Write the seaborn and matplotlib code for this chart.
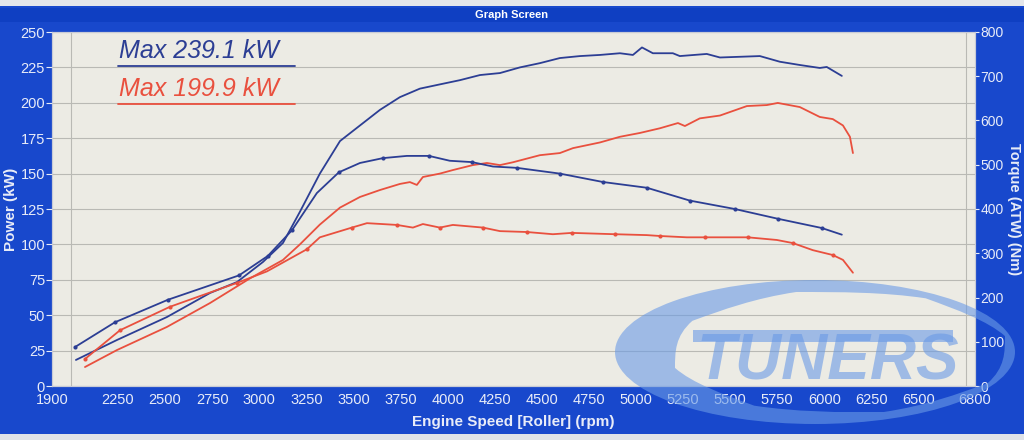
import numpy as np
import pandas as pd
import matplotlib
matplotlib.use("Agg")
import matplotlib.pyplot as plt
import seaborn as sns
from matplotlib.patches import Rectangle, PathPatch
from matplotlib.path import Path

# dyno run
# power curves (kW, left axis)
blue_pwr_rpm = [2027, 2245, 2510, 2739, 2882, 3020, 3126, 3216, 3322, 3429, 3535, 3641, 3747,
                3853, 3959, 4066, 4172, 4278, 4384, 4490, 4596, 4703, 4809, 4915, 4984, 5032,
                5090, 5196, 5233, 5376, 5446, 5658, 5764, 5870, 5976, 6013, 6093]
blue_pwr_kw = [18.4, 32.5, 48.7, 65.7, 73.4, 87.6, 101, 123, 150, 173, 184, 195, 204,
               210, 213, 216, 219.6, 221, 225, 228, 231.6, 233, 233.8, 235, 233.8, 239.1,
               235, 235, 233, 234.5, 232, 233, 229, 226.7, 224.6, 225.3, 219]

red_pwr_rpm = [2075, 2245, 2510, 2739, 2951, 3126, 3216, 3322, 3429, 3535, 3641, 3747, 3800,
               3837, 3869, 3959, 4028, 4134, 4209, 4278, 4347, 4490, 4596, 4666, 4809, 4915,
               5021, 5127, 5223, 5260, 5339, 5446, 5589, 5695, 5753, 5870, 5976, 6045, 6099,
               6136, 6152]
red_pwr_kw = [13.4, 25.4, 41.7, 58.6, 76, 89, 100, 114, 126, 133.5, 138.4, 142.7, 144,
              142, 147.6, 150, 152.5, 156, 157.5, 156, 158, 163, 164.5, 168, 172, 176,
              178.7, 182, 185.7, 183.6, 189, 191, 197.7, 198.4, 199.9, 197, 190, 188.5, 184,
              176, 164.5]

# torque curves (Nm, right axis)
blue_tq_rpm = [2022, 2234, 2516, 2893, 3046, 3174, 3306, 3423, 3535, 3657, 3784, 3901, 4012,
               4129, 4241, 4368, 4596, 4825, 5058, 5286, 5525, 5753, 5987, 6093]
blue_tq_nm = [88, 144, 195, 250, 294, 352, 436, 483, 504, 515, 520, 520, 509,
              506, 496, 493, 480, 461, 448, 419, 400, 378, 357, 342]
blue_tq_dots = [0, 1, 2, 3, 4, 5, 7, 9, 11, 13, 15, 16, 17, 18, 19, 20, 21, 22]

red_tq_rpm = [2075, 2261, 2526, 2882, 3041, 3253, 3322, 3492, 3572, 3731, 3816, 3869, 3959,
              4028, 4188, 4278, 4421, 4559, 4660, 4889, 5058, 5127, 5270, 5366, 5594, 5748,
              5833, 5939, 6045, 6099, 6152]
red_tq_nm = [61, 126, 179, 233, 259, 309, 336, 358, 368, 364, 358, 366, 358,
             364, 358, 350, 348, 343, 346, 343, 341, 339, 336, 336, 336, 330,
             323, 307, 296, 285, 256]
red_tq_dots = [0, 1, 2, 3, 5, 7, 9, 12, 14, 16, 18, 19, 21, 23, 24, 26, 28]

x_ticks = [1900, 2250, 2500, 2750, 3000, 3250, 3500, 3750, 4000, 4250, 4500, 4750, 5000,
           5250, 5500, 5750, 6000, 6250, 6500, 6800]
pwr_ticks = [0, 25, 50, 75, 100, 125, 150, 175, 200, 225, 250]
tq_ticks = [0, 100, 200, 300, 400, 500, 600, 700, 800]

max_labels = ["Max 239.1 kW", "Max 199.9 kW"]

BLUE = "#2c3e94"
RED = "#e9503e"
FRAME = "#1848cc"
TXT = "#e8ecf8"
LOGO = "#6a9ae6"

sns.set_style("white")
plt.rcParams["font.family"] = ["Liberation Sans", "DejaVu Sans"]

fig = plt.figure(figsize=(10.24, 4.4), dpi=100, facecolor=FRAME)
W, H = 1024, 440

# window chrome
fig.patches.append(Rectangle((0, 1 - 6 / H), 1, 6 / H, transform=fig.transFigure,
                             facecolor="#e4e6ea", edgecolor="none", zorder=0))
fig.patches.append(Rectangle((0, 1 - 22 / H), 1, 14 / H, transform=fig.transFigure,
                             facecolor="#0f3fc2", edgecolor="none", zorder=0))
fig.patches.append(Rectangle((0, 0), 1, 6 / H, transform=fig.transFigure,
                             facecolor="#dfe2e8", edgecolor="none", zorder=0))
fig.text(0.5, 1 - 15 / H, "Graph Screen", color="white", fontsize=8, fontweight="bold",
         ha="center", va="center")

ax = fig.add_axes([52 / W, 1 - 386 / H, 923 / W, 354 / H])
ax.set_facecolor("#ecebe4")
ax2 = ax.twinx()

sns.lineplot(x=blue_pwr_rpm, y=blue_pwr_kw, ax=ax, color=BLUE, lw=1.3)
sns.lineplot(x=red_pwr_rpm, y=red_pwr_kw, ax=ax, color=RED, lw=1.3)
sns.lineplot(x=blue_tq_rpm, y=blue_tq_nm, ax=ax2, color=BLUE, lw=1.3,
             marker="o", markersize=3, markevery=blue_tq_dots, markeredgewidth=0)
sns.lineplot(x=red_tq_rpm, y=red_tq_nm, ax=ax2, color=RED, lw=1.3,
             marker="o", markersize=3, markevery=red_tq_dots, markeredgewidth=0)

ax.set_xlim(1900, 6800)
ax.set_ylim(0, 250)
ax2.set_ylim(0, 800)
ax.set_xticks(x_ticks)
ax.set_xticks(np.arange(2000, 6800, 250), minor=True)
ax.set_yticks(pwr_ticks)
ax2.set_yticks(tq_ticks)

ax.grid(True, which="minor", axis="x", color="#b9b9b4", lw=0.8)
ax.grid(True, which="major", axis="y", color="#b9b9b4", lw=0.8)
ax.tick_params(axis="x", which="minor", length=0)
ax.tick_params(axis="both", which="major", colors=TXT, labelsize=10.5, length=4, width=0.8,
               direction="out", pad=1)
ax2.tick_params(axis="y", colors=TXT, labelsize=10, length=3, width=0.8, direction="out", pad=1)

for a in (ax, ax2):
    for s in a.spines.values():
        s.set_color("#c8cbd6")
        s.set_linewidth(0.8)

ax.set_xlabel("Engine Speed [Roller] (rpm)", color=TXT, fontsize=11, fontweight="bold", labelpad=6)
ax.set_ylabel("Power (kW)", color=TXT, fontsize=11, fontweight="bold", labelpad=2)
ax2.set_ylabel("Torque (ATW) (Nm)", color=TXT, fontsize=10.5, fontweight="bold",
               rotation=270, labelpad=12)

# max value notes with underline
for lab, col, ty, uy in [(max_labels[0], BLUE, 0.946, 0.904), (max_labels[1], RED, 0.838, 0.797)]:
    ax.text(0.073, ty, lab, transform=ax.transAxes, color=col, fontsize=18, style="italic",
            va="center", ha="left")
    ax.plot([0.0715, 0.263], [uy, uy], transform=ax.transAxes, color=col, lw=1.3)


# faint logo watermark, placed in pixel terms
def fx(px):
    return px / W


def fy(py):
    return 1 - py / H


circ = Path.unit_circle()
o_verts = circ.vertices * [fx(200), 72 / H] + [fx(815), fy(352)]
i_verts = (circ.vertices * [fx(165), 60 / H] + [fx(840), fy(352)])[::-1]
ring = Path(np.concatenate([o_verts, i_verts]), np.concatenate([circ.codes, circ.codes]))
fig.patches.append(PathPatch(ring, transform=fig.transFigure, facecolor=LOGO,
                             edgecolor="none", alpha=0.6, zorder=5))
fig.patches.append(Rectangle((fx(693), fy(342)), fx(260), 12 / H, transform=fig.transFigure,
                             facecolor=LOGO, edgecolor="none", alpha=0.6, zorder=5))
fig.text(fx(828), fy(362), "TUNERS", color=LOGO, alpha=0.6, fontsize=46,
         fontweight="bold", style="italic", ha="center", va="center", zorder=5)

fig.savefig("out.png", dpi=100, facecolor=FRAME)
